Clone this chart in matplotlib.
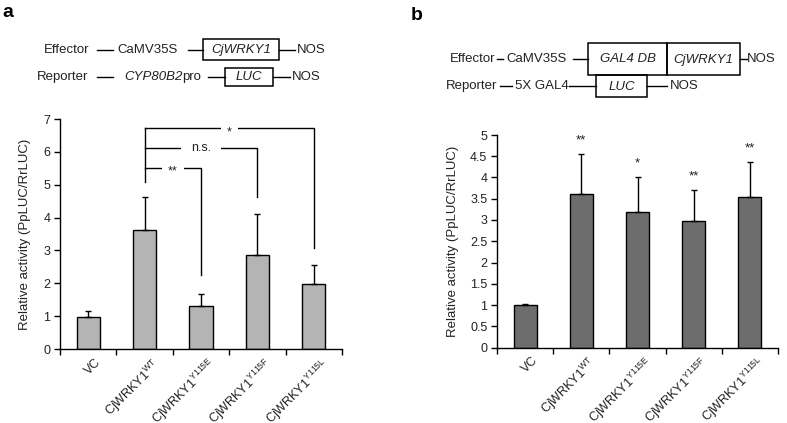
import numpy as np
import matplotlib.pyplot as plt
from matplotlib.patches import Rectangle

plt.rcParams['font.family'] = ['Liberation Sans', 'DejaVu Sans']
plt.rcParams['mathtext.fontset'] = 'custom'
plt.rcParams['mathtext.rm'] = 'Liberation Sans'
plt.rcParams['mathtext.it'] = 'Liberation Sans:italic'

# DATA
categories = ['VC', r'CjWRKY1$^{\mathrm{WT}}$', r'CjWRKY1$^{\mathrm{Y115E}}$',
              r'CjWRKY1$^{\mathrm{Y115F}}$', r'CjWRKY1$^{\mathrm{Y115L}}$']

a_mean = [0.98, 3.62, 1.32, 2.86, 1.97]
a_err = [0.18, 1.02, 0.36, 1.25, 0.59]

# bracket comparisons: (from, to, label, line height, drop end)
a_brackets = [(1, 2, '**', 5.52, 2.25),
              (1, 3, 'n.s.', 6.13, 4.63),
              (1, 4, '*', 6.72, 3.06)]
a_bracket_base = 5.09

b_mean = [1.00, 3.60, 3.19, 2.98, 3.53]
b_err = [0.02, 0.95, 0.81, 0.73, 0.84]
b_marks = ['', '**', '*', '**', '**']

ylabel = 'Relative activity (PpLUC/RrLUC)'

# FIGURE
W, H = 787, 423
fig = plt.figure(figsize=(W / 100, H / 100), dpi=100)


def px_axes(l, t, r, b):
    return fig.add_axes([l / W, 1 - b / H, (r - l) / W, (b - t) / H])


def bar_panel(ax, mean, err, color, ymax, ystep, label_x):
    x = np.arange(len(mean))
    ax.bar(x, mean, width=0.41, color=color, edgecolor='black', linewidth=1, zorder=2)
    ax.errorbar(x, mean, yerr=[np.zeros(len(err)), err], fmt='none', ecolor='black',
                elinewidth=1, capsize=2.5, capthick=1, zorder=3)
    ax.set_xlim(-0.5, len(mean) - 0.5)
    ax.set_ylim(0, ymax)
    for s in ['top', 'right']:
        ax.spines[s].set_visible(False)
    for s in ['left', 'bottom']:
        ax.spines[s].set_linewidth(1)

    # category labels, rotated, hanging from each bar centre
    ax.set_xticks(np.arange(-0.5, len(mean)))
    ax.set_xticklabels([])
    ax.tick_params(axis='x', length=4, width=1, direction='out')
    for i, lab in enumerate(categories):
        ax.annotate(lab, (i, 0), xycoords=('data', 'axes fraction'),
                    xytext=(5, -5), textcoords='offset points',
                    rotation=45, ha='right', va='top', rotation_mode='anchor',
                    fontsize=9, color='#222222', annotation_clip=False)

    yt = np.arange(0, ymax + ystep / 2, ystep)
    ax.set_yticks(yt)
    ax.set_yticklabels([f'{v:g}' for v in yt], fontsize=9, color='#222222')
    ax.tick_params(axis='y', length=4, width=1, direction='out', pad=3)
    ax.set_ylabel(ylabel, fontsize=9.5, color='#222222')
    ax.yaxis.set_label_coords(label_x, 0.5)


# panel a
axa = px_axes(60, 119, 342, 349)
bar_panel(axa, a_mean, a_err, '#b4b4b4', 7, 1, -29 / 282)

axa.plot([1, 1], [a_bracket_base, max(b[3] for b in a_brackets)], color='black', lw=1)
for i, j, lab, h, drop in a_brackets:
    axa.plot([i, j, j], [h, h, drop], color='black', lw=1)
    star = lab.startswith('*')
    axa.annotate(lab, ((i + j) / 2, h), xytext=(0, -3 if star else 0),
                 textcoords='offset points', ha='center', va='center', fontsize=9,
                 color='#222222',
                 bbox=dict(fc='white', ec='none', pad=4.3 if star else 7.5))

# panel b
axb = px_axes(497, 135, 778, 347.5)
bar_panel(axb, b_mean, b_err, '#6d6d6d', 5, 0.5, -38 / 281)
for i, m in enumerate(b_marks):
    if m:
        axb.annotate(m, (i, b_mean[i] + b_err[i]), xytext=(0, 5.5),
                     textcoords='offset points', ha='center', va='bottom',
                     fontsize=9.5, color='#222222')

# construct diagrams (pixel coordinates)
ov = fig.add_axes([0, 0, 1, 1])
ov.set_xlim(0, W)
ov.set_ylim(H, 0)
ov.axis('off')

fs = 9.5


def txt(x, y, s, ha='left', italic=False):
    return ov.text(x, y, s, ha=ha, va='center', fontsize=fs, color='#222222',
                   style='italic' if italic else 'normal')


def seg(x0, x1, y):
    ov.plot([x0, x1], [y, y], color='black', lw=1)


def box(x0, x1, y0, y1, s):
    ov.add_patch(Rectangle((x0, y0), x1 - x0, y1 - y0, fill=False, ec='black', lw=1.1))
    txt((x0 + x1) / 2, (y0 + y1) / 2 + 0.5, s, ha='center', italic=True)


# a
ov.text(2, 17, 'a', fontsize=14, fontweight='bold', va='baseline')
txt(89, 50, 'Effector', ha='right')
seg(97, 113, 50)
txt(117, 50, 'CaMV35S')
seg(188, 203, 50)
box(203, 279, 39, 60, 'CjWRKY1')
seg(279, 295, 50)
txt(297, 50, 'NOS')

txt(88, 77, 'Reporter', ha='right')
seg(97, 113, 77)
cyp = txt(124, 77, 'CYP80B2', italic=True)
ov.annotate('pro', xy=(1, 0.5), xycoords=cyp, va='center', fontsize=fs, color='#222222')
seg(208, 225, 77)
box(225, 273, 68, 86, 'LUC')
seg(273, 290, 77)
txt(292, 77, 'NOS')

# b
ov.text(411, 20, 'b', fontsize=14, fontweight='bold', va='baseline')
txt(495, 59, 'Effector', ha='right')
seg(497, 503, 59)
txt(506, 59, 'CaMV35S')
seg(573, 588, 59)
box(588, 667, 43, 75, 'GAL4 DB')
box(667, 740, 43, 75, 'CjWRKY1')
seg(740, 747, 59)
txt(747, 59, 'NOS')

txt(497, 86, 'Reporter', ha='right')
seg(500, 512, 86)
txt(515, 86, '5X GAL4')
seg(569, 596, 86)
box(596, 647, 75, 97, 'LUC')
seg(647, 667, 86)
txt(670, 86, 'NOS')

fig.savefig('out.png', dpi=100)
